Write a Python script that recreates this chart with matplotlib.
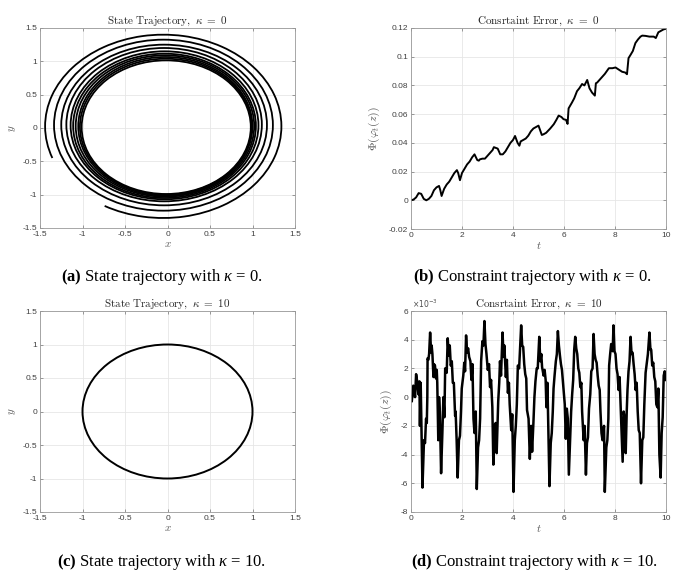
import matplotlib.pyplot as plt
from matplotlib.patches import Ellipse, Arc
from matplotlib.ticker import FuncFormatter
import numpy as np

plt.rcParams['axes.unicode_minus'] = False
plt.rcParams['font.family'] = ['Liberation Sans', 'DejaVu Sans']
plt.rcParams['mathtext.fontset'] = 'custom'
plt.rcParams['mathtext.rm'] = 'Liberation Serif'
plt.rcParams['mathtext.it'] = 'Liberation Serif:italic'
plt.rcParams['mathtext.bf'] = 'Liberation Serif:bold'

# (a) spiral, kappa=0 : extents of each turn (outer -> inner)
ring_right = [1.34, 1.24, 1.17, 1.11, 1.07, 1.04, 1.02, 1.00, 0.99, 0.98]
ring_left = [1.44, 1.335, 1.25, 1.19, 1.14, 1.11, 1.08, 1.05, 1.03, 1.01]
ring_top = [1.40, 1.325, 1.25, 1.20, 1.15, 1.115, 1.09, 1.065, 1.04, 1.015]
ring_bottom = [1.35, 1.24, 1.16, 1.10, 1.07, 1.05, 1.03, 1.015, 1.00, 0.99]
outer_start_deg = -120
outer_end_deg = 200

# (c) trajectory, kappa=10
circle_center = (0.0, 0.0)
circle_radius = 1.0

# (b) constraint error, kappa=0
b_t = [0, 0.1, 0.2, 0.3, 0.4, 0.5, 0.6, 0.7, 0.8, 0.9,
       1.0, 1.1, 1.15, 1.2, 1.3, 1.4, 1.5, 1.6, 1.7, 1.8,
       1.85, 1.92, 2.0, 2.1, 2.2, 2.3, 2.4, 2.49, 2.6, 2.66,
       2.7, 2.8, 2.9, 3.0, 3.1, 3.2, 3.25, 3.4, 3.5, 3.6,
       3.7, 3.8, 3.9, 4.0, 4.08, 4.18, 4.25, 4.3, 4.4, 4.5,
       4.6, 4.7, 4.8, 4.9, 5.0, 5.13, 5.2, 5.3, 5.46, 5.6,
       5.7, 5.79, 5.9, 5.98, 6.08, 6.14, 6.18, 6.31, 6.4, 6.51,
       6.6, 6.71, 6.8, 6.91, 7.0, 7.1, 7.21, 7.25, 7.3, 7.5,
       7.6, 7.76, 7.9, 8.02, 8.15, 8.28, 8.4, 8.47, 8.53, 8.6,
       8.7, 8.8, 8.9, 9.0, 9.07, 9.2, 9.35, 9.52, 9.6, 9.7,
       9.8, 9.9, 10.0]
b_val = [0, 0.0005, 0.002, 0.005, 0.0045, 0.001, 0.0, 0.001, 0.003, 0.007,
         0.009, 0.010, 0.007, 0.003, 0.008, 0.011, 0.013, 0.016, 0.019, 0.021,
         0.019, 0.014, 0.019, 0.022, 0.025, 0.027, 0.030, 0.032, 0.028, 0.0276,
         0.0285, 0.029, 0.029, 0.031, 0.033, 0.035, 0.037, 0.036, 0.032, 0.032,
         0.034, 0.037, 0.040, 0.042, 0.0448, 0.040, 0.038, 0.041, 0.042, 0.043,
         0.045, 0.048, 0.050, 0.051, 0.052, 0.0455, 0.046, 0.047, 0.050, 0.053,
         0.056, 0.059, 0.058, 0.0565, 0.056, 0.0532, 0.064, 0.068, 0.071, 0.076,
         0.078, 0.081, 0.080, 0.0838, 0.078, 0.075, 0.0729, 0.0815, 0.082, 0.086,
         0.088, 0.092, 0.092, 0.0925, 0.091, 0.0895, 0.089, 0.0878, 0.099, 0.101,
         0.104, 0.1095, 0.112, 0.114, 0.1147, 0.1145, 0.114, 0.114, 0.113, 0.117,
         0.118, 0.119, 0.1195]

# (d) constraint error, kappa=10 (units of 1e-3)
d_t = [0.00, 0.03, 0.09, 0.16, 0.20, 0.25, 0.29, 0.33, 0.35, 0.38,
       0.45, 0.51, 0.55, 0.59, 0.62, 0.64, 0.65, 0.68, 0.71, 0.75,
       0.79, 0.81, 0.84, 0.88, 0.90, 0.94, 0.98, 1.01, 1.03, 1.07,
       1.10, 1.13, 1.18, 1.23, 1.27, 1.31, 1.34, 1.40, 1.44, 1.48,
       1.52, 1.56, 1.60, 1.64, 1.68, 1.73, 1.75, 1.79, 1.83, 1.88,
       1.92, 1.96, 1.99, 2.05, 2.09, 2.12, 2.16, 2.20, 2.24, 2.28,
       2.33, 2.37, 2.41, 2.45, 2.49, 2.54, 2.58, 2.63, 2.67, 2.71,
       2.75, 2.80, 2.84, 2.88, 2.92, 2.96, 3.01, 3.06, 3.10, 3.14,
       3.19, 3.23, 3.27, 3.32, 3.36, 3.42, 3.46, 3.49, 3.53, 3.59,
       3.63, 3.66, 3.72, 3.76, 3.80, 3.84, 3.87, 3.93, 3.97, 4.02,
       4.07, 4.11, 4.15, 4.19, 4.24, 4.28, 4.32, 4.36, 4.40, 4.44,
       4.48, 4.52, 4.55, 4.61, 4.66, 4.71, 4.75, 4.80, 4.84, 4.88,
       4.93, 4.97, 5.03, 5.07, 5.11, 5.14, 5.20, 5.24, 5.28, 5.31,
       5.35, 5.39, 5.43, 5.48, 5.52, 5.56, 5.59, 5.63, 5.68, 5.72,
       5.76, 5.80, 5.84, 5.88, 5.92, 5.96, 5.99, 6.03, 6.07, 6.11,
       6.15, 6.19, 6.24, 6.28, 6.32, 6.36, 6.40, 6.44, 6.48, 6.52,
       6.56, 6.60, 6.64, 6.68, 6.71, 6.77, 6.81, 6.86, 6.90, 6.94,
       6.98, 7.03, 7.07, 7.12, 7.16, 7.20, 7.24, 7.28, 7.32, 7.36,
       7.40, 7.43, 7.47, 7.51, 7.57, 7.60, 7.66, 7.70, 7.74, 7.77,
       7.81, 7.85, 7.91, 7.94, 7.98, 8.02, 8.06, 8.10, 8.14, 8.18,
       8.22, 8.26, 8.30, 8.34, 8.38, 8.42, 8.46, 8.49, 8.53, 8.57,
       8.61, 8.65, 8.69, 8.73, 8.77, 8.81, 8.85, 8.89, 8.93, 8.97,
       9.02, 9.07, 9.11, 9.15, 9.20, 9.24, 9.29, 9.35, 9.39, 9.42,
       9.46, 9.50, 9.54, 9.58, 9.62, 9.66, 9.70, 9.74, 9.79, 9.83,
       9.87, 9.91, 9.95, 10.0]
d_val = [0, -0.3, 0.8, 0, 1.6, 1.0, 0.2, 1.1, -2.0, 1.0,
         -6.3, -3.0, -3.2, -1.5, -1.8, 0, 2.7, 2.6, 3.0, 4.5,
         3.1, 3.6, 3.0, 1.4, 2.3, 2.2, 1.3, 1.9, 1.0, -3.0,
         0, -1.0, -5.3, -2.5, 0, -1.4, 2.0, 1.7, 4.1, 2.9,
         3.6, 2.2, 2.5, 1.0, 1.0, -1.3, -1.0, -3.0, -5.6, -3.0,
         -2.7, -1.0, 0.6, 1.5, 2.4, 1.8, 4.3, 3.1, 3.4, 2.8,
         2.5, 1.2, 2.3, -1.5, -2.5, -1.0, -6.4, -3.5, -3.0, -1.5,
         2.5, 3.9, 3.6, 5.3, 3.7, 3.0, 1.9, 2.3, 0.7, 1.2,
         -0.7, -4.7, -2.0, -1.8, -3.9, -0.3, 1.0, 2.5, 1.5, 4.5,
         2.8, 3.6, 1.4, 2.6, 0.3, 1.0, -0.5, -2.3, -1.2, -6.6,
         -3.0, -2.0, -0.5, 2.2, 2.0, 3.5, 5.0, 3.6, 3.5, 2.3,
         1.6, 1.3, -0.9, -1.5, -4.3, -2.0, -3.8, -1.8, 0, 1.1,
         2.0, 2.0, 4.2, 2.5, 3.0, 2.1, 1.5, 1.9, 1.2, -0.7,
         1.0, -2.5, -6.2, -3.2, -2.5, -1.0, 0.6, 1.5, 2.5, 3.0,
         4.6, 3.6, 2.9, 2.3, 1.9, 1.0, 0.3, -0.5, -2.9, -0.8,
         -1.5, -5.4, -3.0, -1.0, 0.2, 1.2, 3.3, 4.2, 3.4, 3.0,
         2.0, 1.7, 0.7, 1.0, -1.0, -3.0, -2.0, -5.4, -3.2, -2.8,
         -0.8, 0.2, 1.8, 2.0, 4.4, 3.0, 2.6, 2.4, 1.5, 0.8,
         0.5, -1.0, -2.5, -3.0, -2.0, -6.6, -3.5, -3.0, -1.5, 2.2,
         3.0, 3.7, 3.2, 5.0, 3.2, 3.0, 2.0, 1.6, 0.5, 1.4,
         -0.6, -2.5, -4.5, -1.0, -1.5, -3.9, -1.0, 0.5, 1.8, 2.5,
         4.2, 3.0, 3.1, 2.3, 1.6, 0.5, 1.0, -1.0, -2.3, -2.5,
         -6.0, -3.0, -2.8, -0.5, 1.7, 2.3, 3.0, 4.5, 3.3, 3.3,
         2.2, 2.4, 1.4, 1.1, -0.5, -0.7, 0.6, -4.0, -5.6, -2.5,
         -1.4, 1.5, 1.8, 1.2]

titles = [r'$\mathrm{State\ Trajectory},\ \kappa\ =\ 0$',
          r'$\mathrm{Consrtaint\ Error},\ \kappa\ =\ 0$',
          r'$\mathrm{State\ Trajectory},\ \kappa\ =\ 10$',
          r'$\mathrm{Consrtaint\ Error},\ \kappa\ =\ 10$']
captions = [r'$\mathbf{(a)}$ State trajectory with $\kappa$ = 0.',
            r'$\mathbf{(b)}$ Constraint trajectory with $\kappa$ = 0.',
            r'$\mathbf{(c)}$ State trajectory with $\kappa$ = 10.',
            r'$\mathbf{(d)}$ Constraint trajectory with $\kappa$ = 10.']

W, H = 693, 576
fig = plt.figure(figsize=(W / 100, H / 100), dpi=100)

def px_axes(x0, y0, x1, y1):
    return fig.add_axes([x0 / W, 1 - y1 / H, (x1 - x0) / W, (y1 - y0) / H])

ax_a = px_axes(40, 28, 295, 228)
ax_b = px_axes(411, 28, 666, 229)
ax_c = px_axes(40, 311, 295, 512)
ax_d = px_axes(411, 311, 666, 512)

fmt = FuncFormatter(lambda v, p: '%g' % round(v, 6))

def style(ax, title):
    ax.grid(True, color='#e6e6e6', lw=0.6)
    ax.set_axisbelow(True)
    for s in ax.spines.values():
        s.set_color('0.6')
        s.set_linewidth(0.6)
    ax.tick_params(direction='in', top=True, right=True, length=2.5, width=0.5,
                   color='0.45', labelsize=6, labelcolor='0.25', pad=2)
    ax.xaxis.set_major_formatter(fmt)
    ax.yaxis.set_major_formatter(fmt)
    ax.set_title(title, fontsize=8, math_fontfamily='cm', color='0.15', pad=3)

# (a)
for i in range(len(ring_right)):
    cx = (ring_right[i] - ring_left[i]) / 2
    cy = (ring_top[i] - ring_bottom[i]) / 2
    w = ring_right[i] + ring_left[i]
    h = ring_top[i] + ring_bottom[i]
    if i == 0:
        ax_a.add_patch(Arc((cx, cy), w, h, theta1=outer_start_deg, theta2=outer_end_deg,
                           color='black', lw=1.3))
    else:
        ax_a.add_patch(Ellipse((cx, cy), w, h, fill=False, edgecolor='black', lw=1.3))

# (c)
ax_c.add_patch(Ellipse(circle_center, 2 * circle_radius, 2 * circle_radius,
                       fill=False, edgecolor='black', lw=1.4))

for ax, ttl in [(ax_a, titles[0]), (ax_c, titles[2])]:
    ax.set_xlim(-1.5, 1.5)
    ax.set_ylim(-1.5, 1.5)
    ax.set_xticks(np.arange(-1.5, 1.51, 0.5))
    ax.set_yticks(np.arange(-1.5, 1.51, 0.5))
    style(ax, ttl)
    ax.set_xlabel('$x$', fontsize=8, math_fontfamily='cm', color='0.35', labelpad=1)
    ax.set_ylabel('$y$', fontsize=8, math_fontfamily='cm', color='0.35', labelpad=3)

# (b)
ax_b.plot(b_t, b_val, color='black', lw=1.4)
ax_b.set_xlim(0, 10)
ax_b.set_ylim(-0.02, 0.12)
ax_b.set_xticks(np.arange(0, 11, 2))
ax_b.set_yticks(np.arange(-0.02, 0.121, 0.02))
style(ax_b, titles[1])

# (d)
ax_d.plot(d_t, d_val, color='black', lw=1.8)
ax_d.set_xlim(0, 10)
ax_d.set_ylim(-8, 6)
ax_d.set_xticks(np.arange(0, 11, 2))
ax_d.set_yticks(np.arange(-8, 7, 2))
style(ax_d, titles[3])
ax_d.text(0.005, 1.005, r'$\times10^{-3}$', transform=ax_d.transAxes, fontsize=5.5,
          color='0.3', math_fontfamily='dejavusans', ha='left', va='bottom')

for ax in (ax_b, ax_d):
    ax.set_xlabel('$t$', fontsize=8, math_fontfamily='cm', color='0.35', labelpad=1)
    ax.set_ylabel(r'$\Phi(\varphi_t(z))$', fontsize=8.5, math_fontfamily='cm',
                  color='0.35', labelpad=5)

# captions
cap_pos = [(162, 277), (532, 277), (161, 562), (534, 562)]
for (cxp, cyp), txt in zip(cap_pos, captions):
    fig.text(cxp / W, 1 - cyp / H, txt, ha='center', va='center', fontsize=12,
             family='Liberation Serif', math_fontfamily='custom', color='black')

fig.savefig('out.png', dpi=100)
